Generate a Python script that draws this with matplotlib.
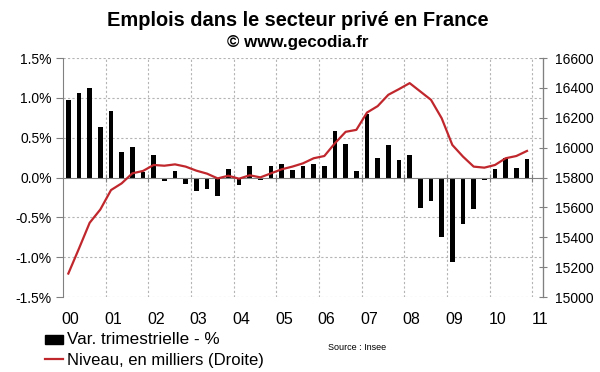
import matplotlib
matplotlib.use("Agg")
import matplotlib.pyplot as plt
import numpy as np
from matplotlib.ticker import FixedLocator
from matplotlib.patches import Rectangle
from matplotlib.lines import Line2D

plt.rcParams['font.family'] = ['Liberation Sans', 'DejaVu Sans']

# Quarterly data, 2000Q1 .. 2010Q4
var_trim = [0.97, 1.06, 1.12, 0.63,
            0.83, 0.32, 0.38, 0.07,
            0.28, -0.04, 0.08, -0.08,
            -0.17, -0.15, -0.23, 0.11,
            -0.10, 0.14, -0.03, 0.15,
            0.17, 0.09, 0.15, 0.17,
            0.15, 0.58, 0.42, 0.08,
            0.80, 0.25, 0.41, 0.22,
            0.28, -0.38, -0.30, -0.75,
            -1.06, -0.58, -0.39, -0.03,
            0.11, 0.25, 0.12, 0.23]
niveau = [15157, 15325, 15497, 15586,
          15716, 15761, 15828, 15844,
          15884, 15879, 15888, 15873,
          15846, 15826, 15794, 15812,
          15792, 15815, 15801, 15828,
          15855, 15873, 15895, 15929,
          15944, 16030, 16106, 16119,
          16235, 16278, 16354, 16392,
          16432, 16376, 16320, 16197,
          16018, 15940, 15873, 15866,
          15884, 15929, 15944, 15978]
year_labels = ['00', '01', '02', '03', '04', '05', '06', '07', '08', '09', '10', '11']
left_ticks = [-1.5, -1.0, -0.5, 0.0, 0.5, 1.0, 1.5]
right_ticks = [15000, 15200, 15400, 15600, 15800, 16000, 16200, 16400, 16600]

n_slots = 45
x = np.arange(len(var_trim))

fig = plt.figure(figsize=(6.0, 3.72), dpi=100)
ax = fig.add_axes([0.105, 0.2016, 0.8, 0.6424])
ax2 = ax.twinx()

spine_c = '#808080'
grid_c = '#b4b4b4'
red = '#c0272d'

ax.bar(x, var_trim, width=0.45, color='black', zorder=3)
ax.set_xlim(-0.5, n_slots - 0.5)
ax.set_ylim(-1.5, 1.5)
ax.set_yticks(left_ticks)
ax.set_yticklabels([f'{v:.1f}%' for v in left_ticks])

boundaries = np.arange(3.5, n_slots - 1, 4)
for b in boundaries:
    ax.axvline(b, color=grid_c, lw=0.8, ls=(0, (2, 2)), zorder=1)
for t in left_ticks:
    if t != 0:
        ax.axhline(t, color=grid_c, lw=0.8, ls=(0, (2, 2)), zorder=1)

# category axis at zero
ax.spines['bottom'].set_position(('data', 0))
ax.spines['bottom'].set_color(spine_c)
ax.spines['bottom'].set_zorder(4)
ax.xaxis.set_major_locator(FixedLocator(boundaries))
ax.tick_params(axis='x', direction='inout', length=6, color=spine_c, labelbottom=False)
ax.spines['top'].set_visible(False)
ax.spines['left'].set_color(spine_c)
ax.tick_params(axis='y', direction='out', length=5, color=spine_c, labelsize=10, pad=3)

for k, lab in enumerate(year_labels):
    ax.text(4 * k + 0.2, -0.095, lab, transform=ax.get_xaxis_transform(),
            ha='center', va='center', fontsize=11.5)

ax2.plot(x, niveau, color=red, lw=1.6, zorder=5)
ax2.set_ylim(15000, 16600)
ax2.set_yticks(right_ticks)
ax2.tick_params(axis='y', direction='inout', length=6, color=spine_c, labelsize=10, pad=6)
for s in ['top', 'bottom', 'left']:
    ax2.spines[s].set_visible(False)
ax2.spines['right'].set_color(spine_c)

fig.text(0.497, 1 - 21 / 372, 'Emplois dans le secteur privé en France', ha='center', va='center',
         fontsize=14.4, fontweight='bold')
fig.text(0.496, 1 - 43 / 372, '© www.gecodia.fr', ha='center', va='center',
         fontsize=12.2, fontweight='bold')

# legend
fig.patches.append(Rectangle((45 / 600, 1 - 344 / 372), 18 / 600, 9 / 372,
                             transform=fig.transFigure, color='black'))
fig.lines.append(Line2D([45 / 600, 63 / 600], [1 - 359 / 372, 1 - 359 / 372],
                        transform=fig.transFigure, color=red, lw=1.6))
fig.text(67 / 600, 1 - 339 / 372, 'Var. trimestrielle - %', ha='left', va='center', fontsize=12.3)
fig.text(67 / 600, 1 - 360 / 372, 'Niveau, en milliers (Droite)', ha='left', va='center', fontsize=12)
fig.text(328 / 600, 1 - 348 / 372, 'Source : Insee', ha='left', va='center', fontsize=6.5)

fig.savefig('out.png', dpi=100)
